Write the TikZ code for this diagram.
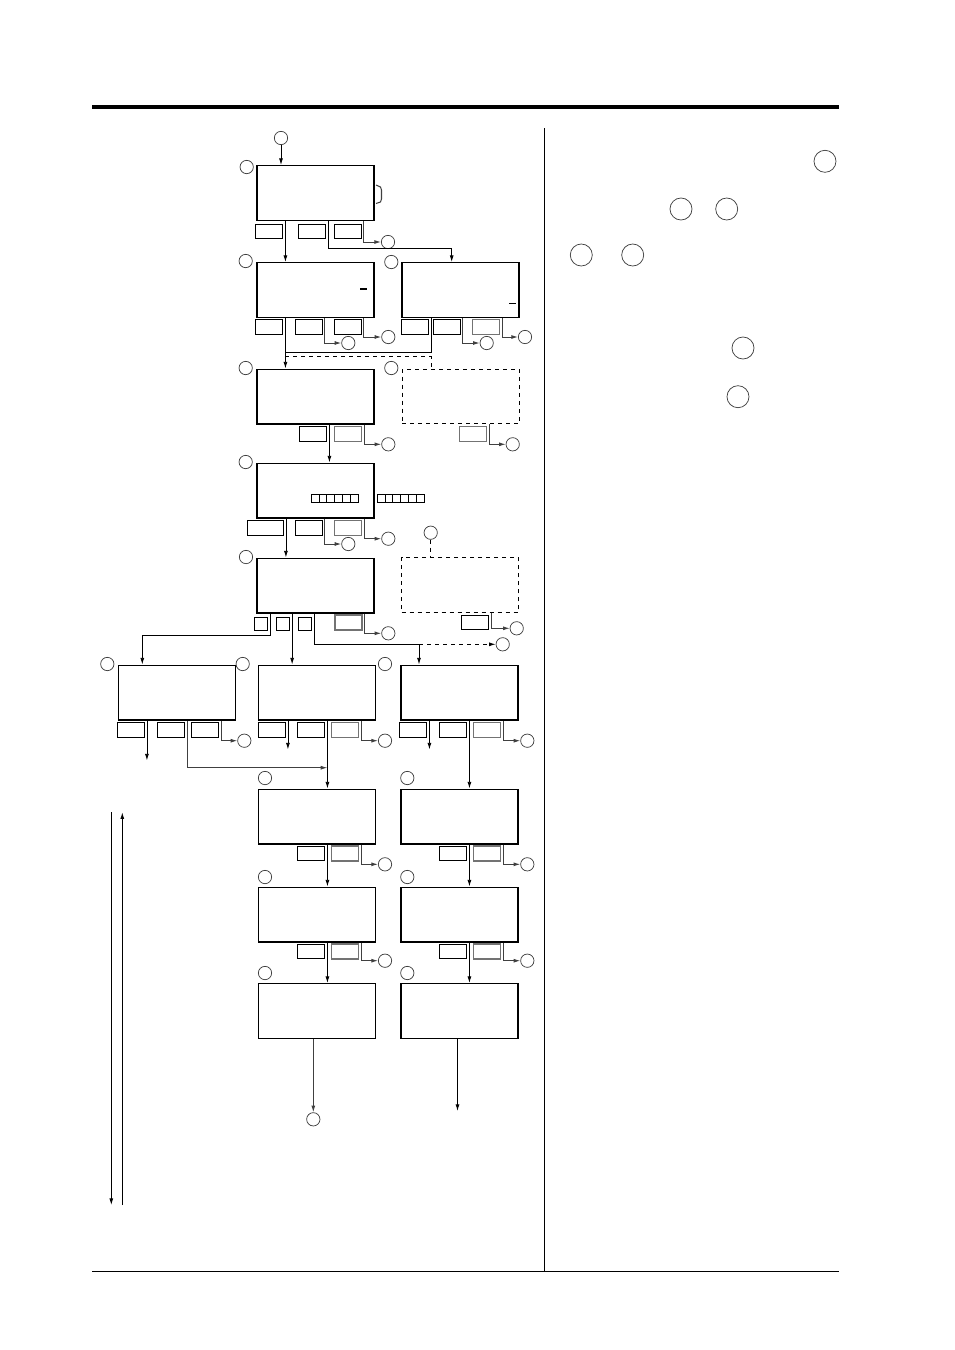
\documentclass[tikz,border=0pt]{standalone}
\usepackage{tikz}
\usetikzlibrary{positioning, arrows.meta, calc}

\begin{document}
\begin{tikzpicture}[
    x=0.75pt, y=-0.75pt,
    >={Latex[length=5pt,width=3pt]},
    lcd/.style={draw, rectangle, line width=1pt, minimum width=87.75pt, minimum height=41pt, inner sep=0pt},
    ghost/.style={lcd, dashed, line width=0.75pt},
    softkey/.style={draw, rectangle, line width=0.75pt, minimum width=20.25pt, minimum height=11pt, inner sep=0pt, outer xsep=2.2pt, outer ysep=0pt},
    litkey/.style={softkey, draw=black!55, line width=1.1pt},
    sqkey/.style={softkey, minimum width=9.75pt, minimum height=9.75pt},
    ref/.style={circle, draw=black!75, line width=0.55pt, minimum size=10pt, inner sep=0pt},
    bigref/.style={ref, minimum size=16.5pt},
    arrow/.style={->, line width=0.65pt},
    exitline/.style={->, line width=0.7pt, draw=black!75}
]
\useasboundingbox (0,0) rectangle (954,1350);

% Page rules
\draw[line width=3pt] (92,107) -- (839,107);
\draw[line width=1.1pt] (92,1271.5) -- (839,1271.5);
\draw[line width=1pt] (544.5,128) -- (544.5,1271.5);

% Screens
\node[lcd] (scrA1) at (315.5,193) {};
\node[lcd] (scrA2) at (315.5,290) {};
\node[lcd] (scrB2) at (460.5,290) {};
\node[lcd] (scrA3) at (315.5,396.5) {};
\node[ghost] (scrB3) at (460.5,396.5) {};
\node[lcd] (scrA4) at (315.5,490.5) {};
\node[lcd] (scrA5) at (315.5,585.5) {};
\node[ghost] (scrB5) at (460,585) {};
\node[lcd] (scrC6) at (177,692.5) {};
\node[lcd] (scrD6) at (317,692.5) {};
\node[lcd] (scrE6) at (459.5,692.5) {};
\node[lcd] (scrD7) at (317,816.5) {};
\node[lcd] (scrE7) at (459.5,816.5) {};
\node[lcd] (scrD8) at (317,914.5) {};
\node[lcd] (scrE8) at (459.5,914.5) {};
\node[lcd] (scrD9) at (317,1011) {};
\node[lcd] (scrE9) at (459.5,1011) {};

% Marks inside screens
\draw[line width=0.8pt, black!75] (376,185) -- (380.5,187) -- (381.5,190) -- (381.5,199) -- (380.5,202) -- (376,203.5);
\draw[line width=1.8pt] (360,289) -- (366.5,289);
\draw[line width=0.7pt] (509,303.5) -- (516,303.5);
\foreach \sx in {311,377} {
  \foreach \i in {0,...,5} {
    \draw[line width=0.55pt] (\sx+\i*7.9,494) rectangle ++(7.9,8.3);
  }
}

% Keys
\node[softkey] (kA1a) at (269,231.5) {};
\node[softkey] (kA1b) at (311.5,231.5) {};
\node[softkey] (kA1c) at (347.5,231.5) {};
\node[softkey] (kA2a) at (269,327) {};
\node[softkey] (kA2b) at (308.5,327) {};
\node[softkey] (kA2c) at (347.5,327) {};
\node[softkey] (kB2a) at (414.5,327) {};
\node[softkey] (kB2b) at (446.5,327) {};
\node[litkey] (kB2c) at (486,327) {};
\node[softkey] (kA3a) at (313,434) {};
\node[litkey] (kA3b) at (348,434) {};
\node[litkey] (kB3a) at (473,434) {};
\node[softkey, minimum width=27pt] (kA4a) at (265,528) {};
\node[softkey] (kA4b) at (308.5,528) {};
\node[litkey] (kA4c) at (348,528) {};
\node[sqkey] (sA5a) at (260.8,623.5) {};
\node[sqkey] (sA5b) at (282.7,623.5) {};
\node[sqkey] (sA5c) at (304.8,623.5) {};
\node[litkey] (kA5d) at (348.5,622.5) {};
\node[softkey] (kB5a) at (475,622.5) {};
\node[softkey] (kC6a) at (130.5,730) {};
\node[softkey] (kC6b) at (171,730) {};
\node[softkey] (kC6c) at (205,730) {};
\node[softkey] (kD6a) at (271.5,730) {};
\node[softkey] (kD6b) at (311,730) {};
\node[litkey] (kD6c) at (345,730) {};
\node[softkey] (kE6a) at (413,730) {};
\node[softkey] (kE6b) at (453,730) {};
\node[litkey] (kE6c) at (487,730) {};
\node[softkey] (kD7a) at (311,853.5) {};
\node[litkey] (kD7b) at (345,853.5) {};
\node[softkey] (kE7a) at (453,853.5) {};
\node[litkey] (kE7b) at (487,853.5) {};
\node[softkey] (kD8a) at (311,951.5) {};
\node[litkey] (kD8b) at (345,951.5) {};
\node[softkey] (kE8a) at (453,951.5) {};
\node[litkey] (kE8b) at (487,951.5) {};

% Step circles beside the screens
\node[ref] (lA1) at (246.7,167) {};
\node[ref] (lA2) at (245.7,261) {};
\node[ref] (lB2) at (391.3,262) {};
\node[ref] (lA3) at (245.7,368) {};
\node[ref] (lB3) at (391.3,368) {};
\node[ref] (lA4) at (245.7,462) {};
\node[ref] (lA5) at (246,557) {};
\node[ref] (lC6) at (107.3,664) {};
\node[ref] (lD6) at (242.7,664) {};
\node[ref] (lE6) at (385,664) {};
\node[ref] (lD7) at (265,778) {};
\node[ref] (lE7) at (407.3,778) {};
\node[ref] (lD8) at (265,877) {};
\node[ref] (lE8) at (407.3,877) {};
\node[ref] (lD9) at (265,973) {};
\node[ref] (lE9) at (407.3,973) {};

% Jump circles
\node[ref] (in0) at (281,138) {};
\node[ref] (oA1) at (388,242) {};
\node[ref] (oA2a) at (348.3,343) {};
\node[ref] (oA2b) at (388.3,337) {};
\node[ref] (oB2a) at (486.7,343) {};
\node[ref] (oB2b) at (525,337) {};
\node[ref] (oA3) at (388.3,444.3) {};
\node[ref] (oB3) at (512.7,444.3) {};
\node[ref] (oA4a) at (348.3,544) {};
\node[ref] (oA4b) at (388.3,538.7) {};
\node[ref] (oB5in) at (430.7,532.7) {};
\node[ref] (oA5) at (388.3,633.3) {};
\node[ref] (oA5x) at (502.7,644.3) {};
\node[ref] (oB5) at (516.7,628.3) {};
\node[ref] (oC6) at (244.3,740.7) {};
\node[ref] (oD6) at (385,740.7) {};
\node[ref] (oE6) at (527.3,740.7) {};
\node[ref] (oD7) at (385,864.3) {};
\node[ref] (oE7) at (527.3,864.3) {};
\node[ref] (oD8) at (385,960.7) {};
\node[ref] (oE8) at (527.3,960.7) {};
\node[ref] (oD9) at (313.3,1119.3) {};

% Circles of the right-hand column
\node[bigref] (n1) at (825,161.3) {};
\node[bigref] (n2) at (681,209) {};
\node[bigref] (n3) at (726.7,209) {};
\node[bigref] (n4) at (581.3,255) {};
\node[bigref] (n5) at (632.7,255) {};
\node[bigref] (n6) at (743,348) {};
\node[bigref] (n7) at (738,396.7) {};

% Branch points
\coordinate (forkB2) at (451.7,248.3);
\coordinate (joinB2) at (285.4,352.3);
\coordinate (joinB3) at (285.4,356.7);
\coordinate (forkC6) at (142.3,635);
\coordinate (forkE6) at (419,644.3);
\coordinate (joinD7) at (327.4,767.7);
\coordinate (scrollTopL) at (111.3,812.3);
\coordinate (scrollBotL) at (111.3,1205);
\coordinate (scrollTopR) at (122.3,812.3);
\coordinate (scrollBotR) at (122.3,1205);

% Edges
\draw[arrow] (in0) -- (in0 |- scrA1.north);
\draw[arrow] (kA1a.east |- scrA1.south) -- (kA1a.east |- scrA2.north);
\draw[arrow] (kA1b.east |- scrA1.south) |- (forkB2) -- (forkB2 |- scrB2.north);
\draw[exitline] (kA1c.east |- scrA1.south) |- (oA1);

\draw[arrow] (kA2a.east |- scrA2.south) -- (kA2a.east |- scrA3.north);
\draw[exitline] (kA2b.east |- scrA2.south) |- (oA2a);
\draw[exitline] (kA2c.east |- scrA2.south) |- (oA2b);
\draw[line width=0.65pt] (kB2a.east |- scrB2.south) |- (joinB2);
\draw[exitline] (kB2b.east |- scrB2.south) |- (oB2a);
\draw[exitline] (kB2c.east |- scrB2.south) |- (oB2b);
\draw[dashed, line width=0.65pt] (joinB3) -| (kB2a.east |- scrB3.north);

\draw[arrow] (kA3a.east |- scrA3.south) -- (kA3a.east |- scrA4.north);
\draw[exitline] (kA3b.east |- scrA3.south) |- (oA3);
\draw[exitline] (kB3a.east |- scrB3.south) |- (oB3);

\draw[arrow] (kA4a.east |- scrA4.south) -- (kA4a.east |- scrA5.north);
\draw[exitline] (kA4b.east |- scrA4.south) |- (oA4a);
\draw[exitline] (kA4c.east |- scrA4.south) |- (oA4b);
\draw[dashed, line width=0.65pt] (oB5in) -- (oB5in |- scrB5.north);

\draw[arrow] (sA5a.east |- scrA5.south) |- (forkC6) -- (forkC6 |- scrC6.north);
\draw[arrow] (sA5b.east |- scrA5.south) -- (sA5b.east |- scrD6.north);
\draw[arrow] (sA5c.east |- scrA5.south) |- (forkE6) -- (forkE6 |- scrE6.north);
\draw[arrow, dashed] (forkE6) -- (oA5x);
\draw[exitline] (kA5d.east |- scrA5.south) |- (oA5);
\draw[exitline] (kB5a.east |- scrB5.south) |- (oB5);

\draw[arrow] (kC6a.east |- scrC6.south) -- ++(0,40);
\draw[exitline] (kC6b.east |- scrC6.south) |- (joinD7);
\draw[exitline] (kC6c.east |- scrC6.south) |- (oC6);
\draw[arrow] (kD6a.east |- scrD6.south) -- ++(0,29);
\draw[arrow] (kD6b.east |- scrD6.south) -- (kD6b.east |- scrD7.north);
\draw[exitline] (kD6c.east |- scrD6.south) |- (oD6);
\draw[arrow] (kE6a.east |- scrE6.south) -- ++(0,29);
\draw[arrow] (kE6b.east |- scrE6.south) -- (kE6b.east |- scrE7.north);
\draw[exitline] (kE6c.east |- scrE6.south) |- (oE6);

\draw[arrow] (kD7a.east |- scrD7.south) -- (kD7a.east |- scrD8.north);
\draw[exitline] (kD7b.east |- scrD7.south) |- (oD7);
\draw[arrow] (kE7a.east |- scrE7.south) -- (kE7a.east |- scrE8.north);
\draw[exitline] (kE7b.east |- scrE7.south) |- (oE7);
\draw[arrow] (kD8a.east |- scrD8.south) -- (kD8a.east |- scrD9.north);
\draw[exitline] (kD8b.east |- scrD8.south) |- (oD8);
\draw[arrow] (kE8a.east |- scrE8.south) -- (kE8a.east |- scrE9.north);
\draw[exitline] (kE8b.east |- scrE8.south) |- (oE8);

\draw[exitline] (oD9 |- scrD9.south) -- (oD9);
\draw[arrow] ($(scrE9.south)+(-2,0)$) -- ++(0,72);

% Scroll arrows
\draw[arrow] (scrollTopL) -- (scrollBotL);
\draw[arrow] (scrollBotR) -- (scrollTopR);
\end{tikzpicture}
\end{document}
